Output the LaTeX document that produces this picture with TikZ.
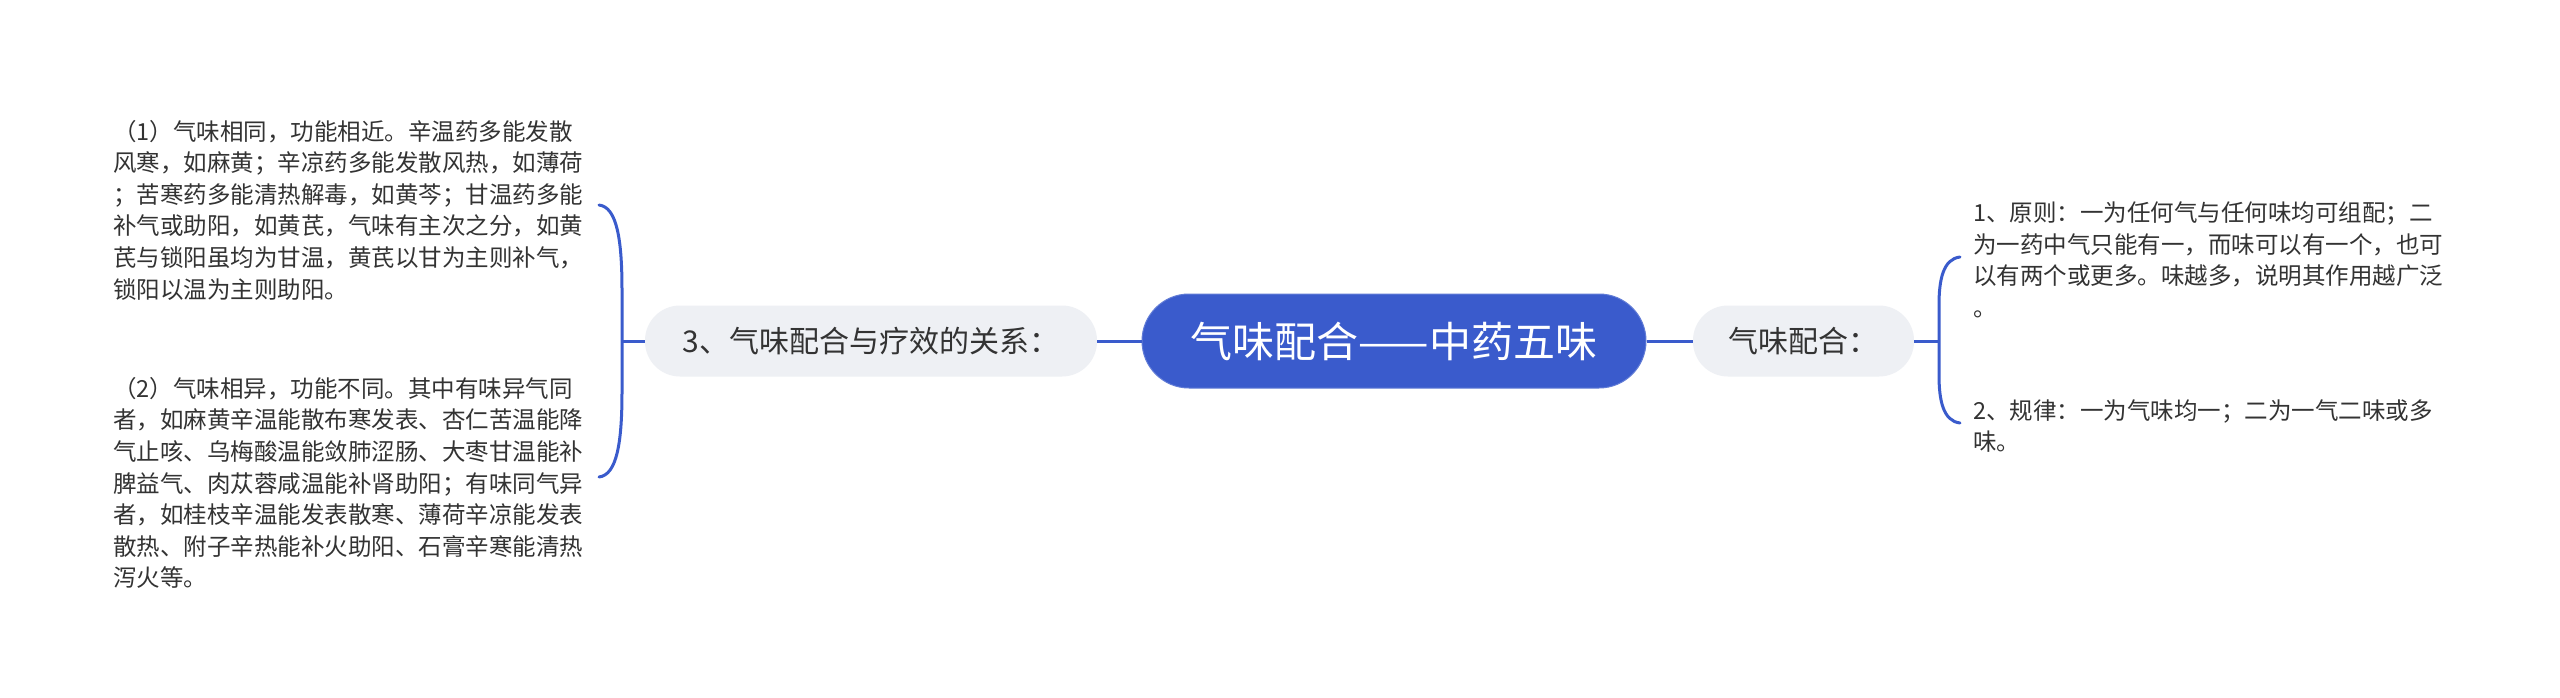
\documentclass[tikz,border=0pt]{standalone}
\usepackage{fontspec}
\newfontfamily\cjk{Noto Sans CJK SC}
\definecolor{mainblue}{HTML}{3A5BCC}
\definecolor{subgray}{HTML}{EEF0F4}
\definecolor{txt}{HTML}{333333}
\begin{document}
\begin{tikzpicture}[x=1pt,y=-1pt,
  rootbox/.style={fill=mainblue,draw=mainblue!80!white,line width=1pt,rounded corners=47pt,minimum width=504pt,minimum height=94pt,inner sep=0pt,text=white,font=\cjk\fontsize{42}{50}\selectfont},
  subbox/.style={fill=subgray,draw=none,rounded corners=35pt,minimum height=71pt,inner sep=0pt,text=txt,font=\cjk\fontsize{30}{36}\selectfont},
  leaftext/.style={anchor=west,align=left,inner sep=0pt,text=txt,font=\cjk\fontsize{23.5}{31.6}\selectfont},
  link/.style={draw=mainblue,line width=3pt},
  brace/.style={draw=mainblue,line width=3pt,line cap=round}
]
\useasboundingbox (0,0) rectangle (2560,697);
\fill[white] (0,0) rectangle (2560,697);

\node[rootbox] (root) at (1394,341) {气味配合——中药五味};
\node[subbox,minimum width=452pt] (left) at (871,341) {3、气味配合与疗效的关系：};
\node[subbox,minimum width=221pt] (right) at (1803.5,341) {气味配合：};

\node[leaftext] (t1) at (113,210) {（1）气味相同，功能相近。辛温药多能发散\\风寒，如麻黄；辛凉药多能发散风热，如薄荷\\；苦寒药多能清热解毒，如黄芩；甘温药多能\\补气或助阳，如黄芪，气味有主次之分，如黄\\芪与锁阳虽均为甘温，黄芪以甘为主则补气，\\锁阳以温为主则助阳。};
\node[leaftext] (t2) at (113,483) {（2）气味相异，功能不同。其中有味异气同\\者，如麻黄辛温能散布寒发表、杏仁苦温能降\\气止咳、乌梅酸温能敛肺涩肠、大枣甘温能补\\脾益气、肉苁蓉咸温能补肾助阳；有味同气异\\者，如桂枝辛温能发表散寒、薄荷辛凉能发表\\散热、附子辛热能补火助阳、石膏辛寒能清热\\泻火等。};
\node[leaftext] (t3) at (1973,260) {1、原则：一为任何气与任何味均可组配；二\\为一药中气只能有一，而味可以有一个，也可\\以有两个或更多。味越多，说明其作用越广泛\\。};
\node[leaftext] (t4) at (1973,426) {2、规律：一为气味均一；二为一气二味或多\\味。};

\path[link] (root.west) -- (left.east);
\path[link] (root.east) -- (right.west);

\coordinate (lb) at (622,341);
\coordinate (lbt) at (599,205);
\coordinate (lbb) at (599,477);
\path[link] (left.west) -- (lb);
\path[brace] (lbt) .. controls (617,207) and (622,240) .. (622,290) -- (622,392) .. controls (622,442) and (617,475) .. (lbb);

\coordinate (rb) at (1939,341);
\coordinate (rbt) at (1960,257);
\coordinate (rbb) at (1960,423);
\path[link] (right.east) -- (rb);
\path[brace] (rbt) .. controls (1943,259) and (1939,280) .. (1939,305) -- (1939,375) .. controls (1939,400) and (1943,421) .. (rbb);
\end{tikzpicture}
\end{document}
